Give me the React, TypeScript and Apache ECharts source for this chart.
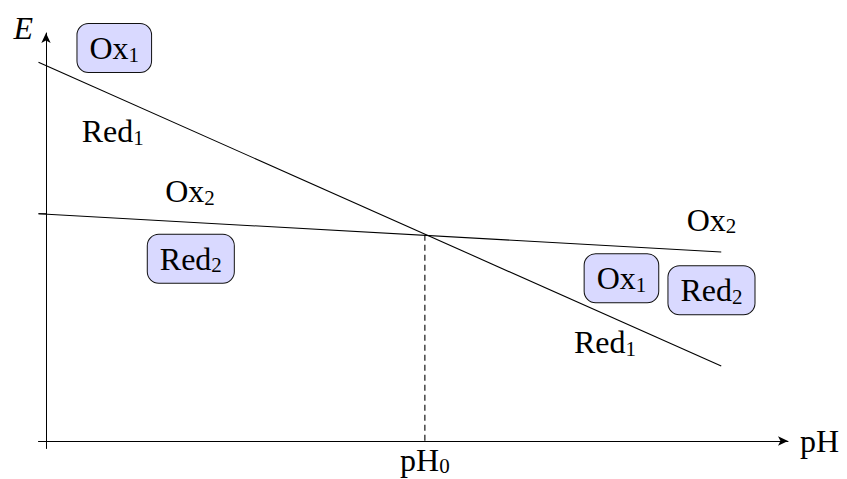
import React, { useEffect, useRef } from "react";
import * as echarts from "echarts";

const FONT = '"Liberation Serif", "DejaVu Serif", serif';

// Two redox couples drawn as straight E(pH) lines
const lineOnePH = [-0.1, 9];
const lineOneE = [5.05, 1.0];
const lineTwoPH = [-0.1, 9];
const lineTwoE = [3.03, 2.52];

// Crossing point of the two lines
const pH0 = 5.05;
const E0 = 2.75;

// Tick marks on the E axis
const eTicks = [3.03];

// pH0 tick label, written under the axis
const pH0LabelE = -0.25;

// Species written next to the lines
const plainNames = ["Red", "Ox", "Ox", "Red"];
const plainSubs = ["1", "2", "2", "1"];
const plainPH = [0.89, 1.92, 8.87, 7.45];
const plainE = [4.13, 3.33, 2.95, 1.32];

// Predominant species, shown in boxes
const boxNames = ["Ox", "Red", "Ox", "Red"];
const boxSubs = ["1", "2", "1", "2"];
const boxPH = [0.91, 1.93, 7.67, 8.87];
const boxE = [5.24, 2.43, 2.17, 2.01];

// Main symbol plus a lowered, smaller index
const makeRich = (lineHeight: number) => ({
  m: { fontFamily: FONT, fontSize: 32, lineHeight, color: "#000" },
  s: {
    fontFamily: FONT,
    fontSize: 21,
    lineHeight: lineHeight - 16,
    padding: [13, 0, 0, 0],
    color: "#000",
  },
});

const species = (p: any) => `{m|${p.data[2]}}{s|${p.data[3]}}`;

export default function App() {
  const ref = useRef<HTMLDivElement>(null);

  useEffect(() => {
    if (!ref.current) return;
    const chart = echarts.init(ref.current, null, { renderer: "svg" });

    const pair = (xs: number[], ys: number[]) => xs.map((x, i) => [x, ys[i]]);
    const labelled = (xs: number[], ys: number[], names: string[], subs: string[]) =>
      xs.map((x, i) => [x, ys[i], names[i], subs[i]]);

    const solid = { color: "#000", width: 1.1 };

    const textSeries = (data: any[], boxed: boolean, lineHeight = 36) => ({
      type: "scatter",
      symbolSize: 0,
      silent: true,
      clip: false,
      itemStyle: { opacity: 1 },
      data,
      label: {
        show: true,
        position: "inside",
        formatter: species,
        color: "#000",
        rich: makeRich(lineHeight),
        ...(boxed
          ? {
              backgroundColor: "#d9d9ff",
              borderColor: "#111",
              borderWidth: 1,
              borderRadius: 11,
              padding: [6, 12],
            }
          : {}),
      },
    });

    chart.setOption({
      animation: false,
      backgroundColor: "#fff",
      grid: {
        left: 38.5,
        right: 59,
        top: 33,
        bottom: 30.5,
        containLabel: false,
        outerBoundsMode: "none",
      },
      xAxis: {
        type: "value",
        min: -0.1,
        max: 9.89,
        axisLine: {
          onZero: true,
          symbol: ["none", "arrow"],
          symbolSize: [7, 10],
          lineStyle: { color: "#000", width: 1 },
        },
        axisTick: { show: false },
        splitLine: { show: false },
        axisLabel: { show: false },
        name: "pH",
        nameLocation: "end",
        nameGap: 12,
        nameTextStyle: { fontFamily: FONT, fontSize: 32, color: "#000" },
      },
      yAxis: {
        type: "value",
        min: -0.1,
        max: 5.44,
        axisLine: {
          onZero: true,
          symbol: ["none", "arrow"],
          symbolSize: [7, 10],
          lineStyle: { color: "#000", width: 1 },
        },
        axisTick: { show: false },
        axisLabel: { show: false },
        splitLine: { show: false },
        name: "E",
        nameLocation: "end",
        nameGap: 5,
        nameTextStyle: {
          fontFamily: FONT,
          fontStyle: "italic",
          fontSize: 32,
          color: "#000",
          align: "right",
          verticalAlign: "middle",
          padding: [0, 13, 0, 0],
        },
      },
      series: [
        {
          type: "line",
          data: pair(lineOnePH, lineOneE),
          showSymbol: false,
          silent: true,
          lineStyle: solid,
        },
        {
          type: "line",
          data: pair(lineTwoPH, lineTwoE),
          showSymbol: false,
          silent: true,
          lineStyle: solid,
        },
        {
          type: "line",
          data: [
            [pH0, E0],
            [pH0, 0],
          ],
          showSymbol: false,
          silent: true,
          lineStyle: { color: "#000", width: 1.1, type: [6, 4] },
        },
        ...eTicks.map((e) => ({
          type: "line",
          data: [
            [-0.1, e],
            [0, e],
          ],
          showSymbol: false,
          silent: true,
          lineStyle: { color: "#000", width: 1 },
        })),
        textSeries([[pH0, pH0LabelE, "pH", "0"]], false, 30),
        textSeries(labelled(plainPH, plainE, plainNames, plainSubs), false),
        textSeries(labelled(boxPH, boxE, boxNames, boxSubs), true),
      ],
    });

    return () => chart.dispose();
  }, []);

  return (
    <div
      ref={ref}
      style={{ position: "fixed", left: 0, top: 0, width: 847, height: 479 }}
    />
  );
}
